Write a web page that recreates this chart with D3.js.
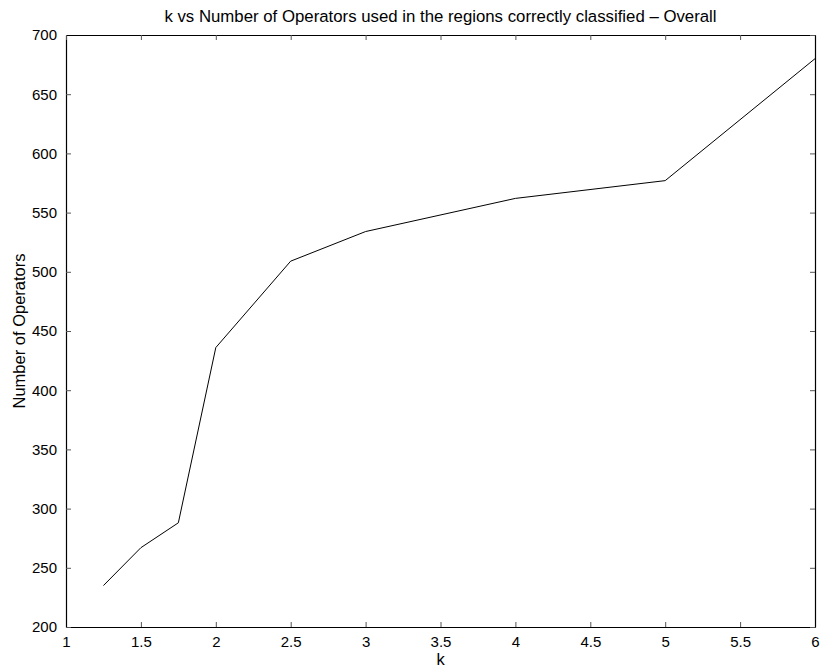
<!DOCTYPE html>
<html>
<head>
<meta charset="utf-8">
<script src="https://cdn.jsdelivr.net/npm/d3@7"></script>
<style>
  body { margin: 0; background: #fff; overflow: hidden; }
  svg { font-family: "Liberation Sans", Arial, sans-serif; display: block; }
</style>
</head>
<body>
<div id="chart"></div>
<script>
// data
const kValues = [1.25, 1.5, 1.75, 2, 2.5, 3, 4, 5, 6];
const operators = [235, 267, 288, 436, 509, 534, 562, 577, 680];
const xTicks = [1, 1.5, 2, 2.5, 3, 3.5, 4, 4.5, 5, 5.5, 6];
const yTicks = [200, 250, 300, 350, 400, 450, 500, 550, 600, 650, 700];

const width = 821, height = 669;
const margin = {top: 35, right: 6, bottom: 42, left: 66};
const innerWidth = width - margin.left - margin.right;
const innerHeight = height - margin.top - margin.bottom;

const svg = d3.select("#chart").append("svg")
    .attr("width", width)
    .attr("height", height);

const g = svg.append("g")
    .attr("transform", `translate(${margin.left},${margin.top})`);

const xScale = d3.scaleLinear().domain([1, 6]).range([0, innerWidth]);
const yScale = d3.scaleLinear().domain([200, 700]).range([innerHeight, 0]);

// axes - ticks point inwards like matlab
const xAxis = d3.axisBottom(xScale).tickValues(xTicks).tickSizeInner(-5).tickSizeOuter(0).tickPadding(9).tickFormat(d3.format("~g"));
const yAxis = d3.axisLeft(yScale).tickValues(yTicks).tickSizeInner(-5).tickSizeOuter(0).tickPadding(9);
const xTop = d3.axisTop(xScale).tickValues(xTicks).tickSizeInner(-5).tickSizeOuter(0);
const yRight = d3.axisRight(yScale).tickValues(yTicks).tickSizeInner(-5).tickSizeOuter(0);

g.append("g").attr("class", "axis").attr("transform", `translate(0,${innerHeight})`).call(xAxis);
g.append("g").attr("class", "axis").call(yAxis);
g.append("g").attr("class", "axis frame").call(xTop);
g.append("g").attr("class", "axis frame").attr("transform", `translate(${innerWidth},0)`).call(yRight);

g.selectAll(".frame text").remove(); // top and right only get ticks

g.selectAll(".axis path").attr("stroke", "#000").attr("stroke-width", 1.2);
g.selectAll(".axis line").attr("stroke", "#555");
g.selectAll(".axis text").attr("font-size", 15).attr("fill", "#000")
    .attr("font-family", "Liberation Sans, Arial, sans-serif");

// the line
const line = d3.line()
    .x((d, i) => xScale(kValues[i]))
    .y(d => yScale(d));

g.append("path")
    .attr("d", line(operators))
    .attr("fill", "none")
    .attr("stroke", "#000")
    .attr("stroke-width", 1);

// labels
svg.append("text")
    .attr("x", margin.left + innerWidth / 2)
    .attr("y", 22)
    .attr("text-anchor", "middle")
    .attr("font-size", 16.8)
    .text("k vs Number of Operators used in the regions correctly classified \u2013 Overall");

svg.append("text")
    .attr("x", margin.left + innerWidth / 2)
    .attr("y", 665)
    .attr("text-anchor", "middle")
    .attr("font-size", 16.5)
    .text("k");

svg.append("text")
    .attr("transform", `translate(25,${margin.top + innerHeight / 2}) rotate(-90)`)
    .attr("text-anchor", "middle")
    .attr("font-size", 16.5)
    .text("Number of Operators");
</script>
</body>
</html>
